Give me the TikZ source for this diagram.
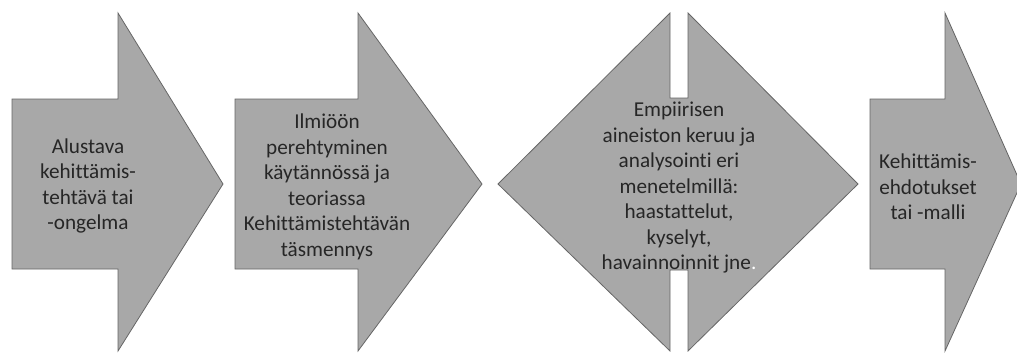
\documentclass[tikz,border=0pt]{standalone}
\usepackage{fontspec}
\setmainfont[Ligatures={NoCommon}]{Carlito}
\begin{document}
\begin{tikzpicture}[x=1pt,y=-1pt,
  shapefill/.style={fill=gray!68, draw=gray!80!black, line width=0.8pt, line join=miter},
  label/.style={align=center, text=black!85, inner sep=0pt,
    font=\fontsize{21.2}{25.5}\selectfont}]
\useasboundingbox (0,0) rectangle (1017,353);
\begin{scope}
\clip (0,0) rectangle (1017,353);
% first arrow
\draw[shapefill] (12,99) -- (118,99) -- (118,13) -- (223,184) -- (118,351) -- (118,269) -- (12,269) -- cycle;
% second arrow
\draw[shapefill] (235,99) -- (358,99) -- (358,13) -- (482,184) -- (358,351) -- (358,269) -- (235,269) -- cycle;
% double-headed block with slots
\draw[shapefill] (498,184) -- (670,13) -- (670,98) -- (688,98) -- (688,13) -- (858,184)
  -- (688,351) -- (688,270) -- (670,270) -- (670,351) -- cycle;
% last arrow
\draw[shapefill] (870,99) -- (945,99) -- (945,13) -- (1021,184) -- (945,351) -- (945,269) -- (870,269) -- cycle;
\end{scope}
\node[label] (t1) at (88,186) {Alustava\\kehittämis-\\tehtävä tai\\-ongelma};
\node[label] (t2) at (327,187) {Ilmiöön\\perehtyminen\\käytännössä ja\\teoriassa\\Kehittämistehtävän\\täsmennys};
\node[label] (t3) at (679,188) {Empiirisen\\aineiston keruu ja\\analysointi eri\\menetelmillä:\\haastattelut,\\kyselyt,\\havainnoinnit jne\textcolor{white}{.}};
\node[label] (t4) at (928,187) {Kehittämis-\\ehdotukset\\tai -malli};
\end{tikzpicture}
\end{document}
